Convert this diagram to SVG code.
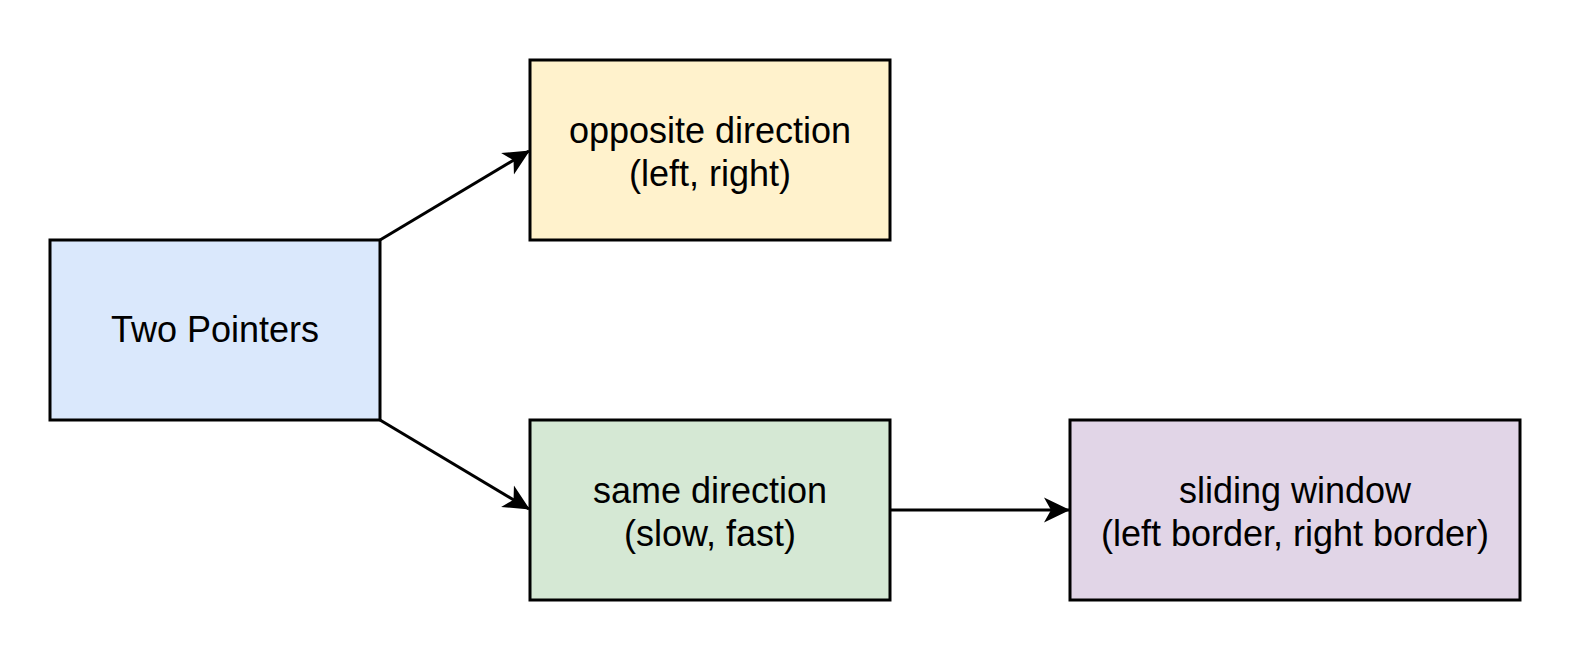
<svg xmlns="http://www.w3.org/2000/svg" width="1576" height="654" viewBox="0 0 1576 654">
<style>
.box{stroke:#000;stroke-width:3}
.t{font-family:"Liberation Sans",Arial,Helvetica,sans-serif;font-size:36px;fill:#000;text-anchor:middle}
.c{stroke:#000;stroke-width:3;fill:none}
</style>
<defs>
<marker id="arr" viewBox="0 0 26 26" refX="25" refY="13" markerWidth="26" markerHeight="26" markerUnits="userSpaceOnUse" orient="auto">
<path d="M26,13 L0,0.5 L7,13 L0,25.5 Z" fill="#000"/>
</marker>
</defs>
<rect width="1576" height="654" fill="#fff"/>
<g id="connectors">
<path class="c" d="M380,240 L529,151" marker-end="url(#arr)"/>
<path class="c" d="M380,420 L529,509" marker-end="url(#arr)"/>
<path class="c" d="M890,510 L1069,510" marker-end="url(#arr)"/>
</g>
<g id="two-pointers">
<rect class="box" x="50" y="240" width="330" height="180" fill="#dae8fc"/>
<text class="t" x="215" y="342">Two Pointers</text>
</g>
<g id="opposite">
<rect class="box" x="530" y="60" width="360" height="180" fill="#fff2cc"/>
<text class="t" x="710" y="143">opposite direction</text>
<text class="t" x="710" y="186">(left, right)</text>
</g>
<g id="same">
<rect class="box" x="530" y="420" width="360" height="180" fill="#d5e8d4"/>
<text class="t" x="710" y="503">same direction</text>
<text class="t" x="710" y="546">(slow, fast)</text>
</g>
<g id="sliding">
<rect class="box" x="1070" y="420" width="450" height="180" fill="#e1d5e7"/>
<text class="t" x="1295" y="503">sliding window</text>
<text class="t" x="1295" y="546">(left border, right border)</text>
</g>
</svg>
